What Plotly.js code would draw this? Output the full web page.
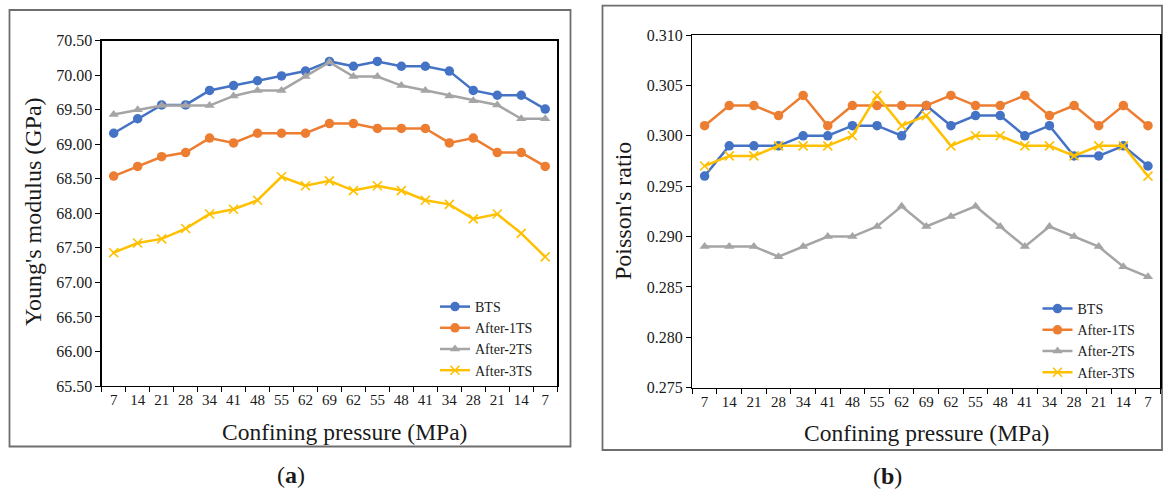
<!DOCTYPE html>
<html>
<head>
<meta charset="utf-8">
<script src="https://cdn.plot.ly/plotly-3.0.1.min.js"></script>
<style>html,body{margin:0;padding:0;background:#fff}#chart{width:1165px;height:490px}</style>
</head>
<body>
<div id="chart"></div>
<script>
// Confining pressure loading/unloading path (MPa)
const pressureLabels = ["7","14","21","28","34","41","48","55","62","69","62","55","48","41","34","28","21","14","7"];
const seriesNames = ["BTS","After-1TS","After-2TS","After-3TS"];

// (a) Young's modulus (GPa)
const youngBTS  = [69.16,69.37,69.57,69.57,69.78,69.85,69.92,69.99,70.06,70.20,70.13,70.20,70.13,70.13,70.06,69.78,69.71,69.71,69.51];
const young1TS  = [68.54,68.68,68.82,68.88,69.09,69.02,69.16,69.16,69.16,69.30,69.30,69.23,69.23,69.23,69.02,69.09,68.88,68.88,68.68];
const young2TS  = [69.43,69.50,69.56,69.56,69.56,69.70,69.78,69.78,69.98,70.19,69.98,69.98,69.85,69.78,69.70,69.63,69.57,69.37,69.37];
const young3TS  = [67.43,67.57,67.63,67.78,67.99,68.06,68.19,68.53,68.40,68.47,68.33,68.40,68.33,68.19,68.13,67.92,67.99,67.71,67.37];

// (b) Poisson's ratio
const poissonBTS = [0.296,0.299,0.299,0.299,0.300,0.300,0.301,0.301,0.300,0.303,0.301,0.302,0.302,0.300,0.301,0.298,0.298,0.299,0.297];
const poisson1TS = [0.301,0.303,0.303,0.302,0.304,0.301,0.303,0.303,0.303,0.303,0.304,0.303,0.303,0.304,0.302,0.303,0.301,0.303,0.301];
const poisson2TS = [0.289,0.289,0.289,0.288,0.289,0.290,0.290,0.291,0.293,0.291,0.292,0.293,0.291,0.289,0.291,0.290,0.289,0.287,0.286];
const poisson3TS = [0.297,0.298,0.298,0.299,0.299,0.299,0.300,0.304,0.301,0.302,0.299,0.300,0.300,0.299,0.299,0.298,0.299,0.299,0.296];

const colors = ["#4472C4","#ED7D31","#A5A5A5","#FFC000"];
const symbols = ["circle","circle","triangle-up","x-thin-open"];
const sizes = [9.5,9.5,9,9];
const xIdx = pressureLabels.map((_, i) => i);

const W = 1165, H = 490;
const px = v => v / W;
const py = v => 1 - v / H;

const FONT = "Liberation Serif, Times New Roman, serif";

function makeTrace(y, k, xa, ya, leg) {
  return {
    type: "scatter", mode: "lines+markers",
    x: xIdx, y: y, name: seriesNames[k],
    xaxis: xa, yaxis: ya, legend: leg,
    line: {color: colors[k], width: 2.5},
    marker: {symbol: symbols[k], size: sizes[k], color: colors[k],
             line: {color: colors[k], width: k === 3 ? 1.6 : 0}},
    hoverinfo: "skip"
  };
}

const data = [
  makeTrace(youngBTS, 0, "x", "y", "legend"),
  makeTrace(young1TS, 1, "x", "y", "legend"),
  makeTrace(young2TS, 2, "x", "y", "legend"),
  makeTrace(young3TS, 3, "x", "y", "legend"),
  makeTrace(poissonBTS, 0, "x2", "y2", "legend2"),
  makeTrace(poisson1TS, 1, "x2", "y2", "legend2"),
  makeTrace(poisson2TS, 2, "x2", "y2", "legend2"),
  makeTrace(poisson3TS, 3, "x2", "y2", "legend2")
];

function xAxis(dom, anchor) {
  return {
    domain: dom, anchor: anchor, range: [-0.5, 18.5],
    tickmode: "array", tickvals: xIdx, ticktext: pressureLabels,
    ticks: "", showgrid: false, zeroline: false,
    showline: true, linecolor: "#000", linewidth: 1.3, mirror: true,
    tickfont: {family: FONT, size: 15, color: "#1a1a1a"},
    minor: {tick0: -0.5, dtick: 1, ticks: "outside", ticklen: 5, tickcolor: "#000", tickwidth: 1, showgrid: false},
    fixedrange: true
  };
}
function yAxis(dom, anchor, range, dtick, fmt) {
  return {
    domain: dom, anchor: anchor, range: range, dtick: dtick, tick0: range[0],
    tickformat: fmt, ticks: "outside", ticklen: 5, tickcolor: "#000", tickwidth: 1,
    showgrid: false, zeroline: false,
    showline: true, linecolor: "#000", linewidth: 1.3, mirror: true,
    tickfont: {family: FONT, size: 16, color: "#1a1a1a"},
    fixedrange: true
  };
}

const legendCommon = {
  bgcolor: "rgba(0,0,0,0)", borderwidth: 0,
  font: {family: FONT, size: 14, color: "#1a1a1a"},
  xanchor: "left", yanchor: "top", tracegroupgap: 0, itemwidth: 30
};

function note(text, x, y, size, angle) {
  return {text: text, xref: "paper", yref: "paper", x: px(x), y: py(y),
          xanchor: "center", yanchor: "middle", textangle: angle || 0,
          showarrow: false, font: {family: FONT, size: size, color: "#1a1a1a"}};
}

const layout = {
  width: W, height: H,
  margin: {l: 0, r: 0, t: 0, b: 0},
  paper_bgcolor: "#fff", plot_bgcolor: "#fff",
  showlegend: true,
  xaxis: xAxis([px(101.7), px(557.2)], "y"),
  yaxis: yAxis([py(386), py(40.7)], "x", [65.5, 70.5], 0.5, ".2f"),
  xaxis2: xAxis([px(692.3), px(1160.3)], "y2"),
  yaxis2: yAxis([py(387.7), py(35)], "x2", [0.275, 0.310], 0.005, ".3f"),
  legend: Object.assign({}, legendCommon, {x: px(435), y: py(291)}),
  legend2: Object.assign({}, legendCommon, {x: px(1037.5), y: py(293)}),
  shapes: [
    {type: "rect", xref: "paper", yref: "paper", x0: px(9.5), x1: px(570.5), y0: py(446.5), y1: py(10),
     line: {color: "#6e6e6e", width: 1.8}, fillcolor: "rgba(0,0,0,0)", layer: "below"},
    {type: "rect", xref: "paper", yref: "paper", x0: px(602.5), x1: px(1162), y0: py(450), y1: py(5.7),
     line: {color: "#6e6e6e", width: 1.8}, fillcolor: "rgba(0,0,0,0)", layer: "below"}
  ],
  annotations: [
    note("Young's modulus (GPa)", 33, 212, 24, -90),
    note("Confining pressure (MPa)", 344.3, 431.5, 23.5),
    note("Poisson's ratio", 623, 211, 24, -90),
    note("Confining pressure (MPa)", 926.3, 432.5, 23.5),
    note("(<b>a</b>)", 291, 475, 24),
    note("(<b>b</b>)", 887, 476, 24)
  ]
};

Plotly.newPlot("chart", data, layout, {staticPlot: true, displayModeBar: false});
</script>
</body>
</html>
